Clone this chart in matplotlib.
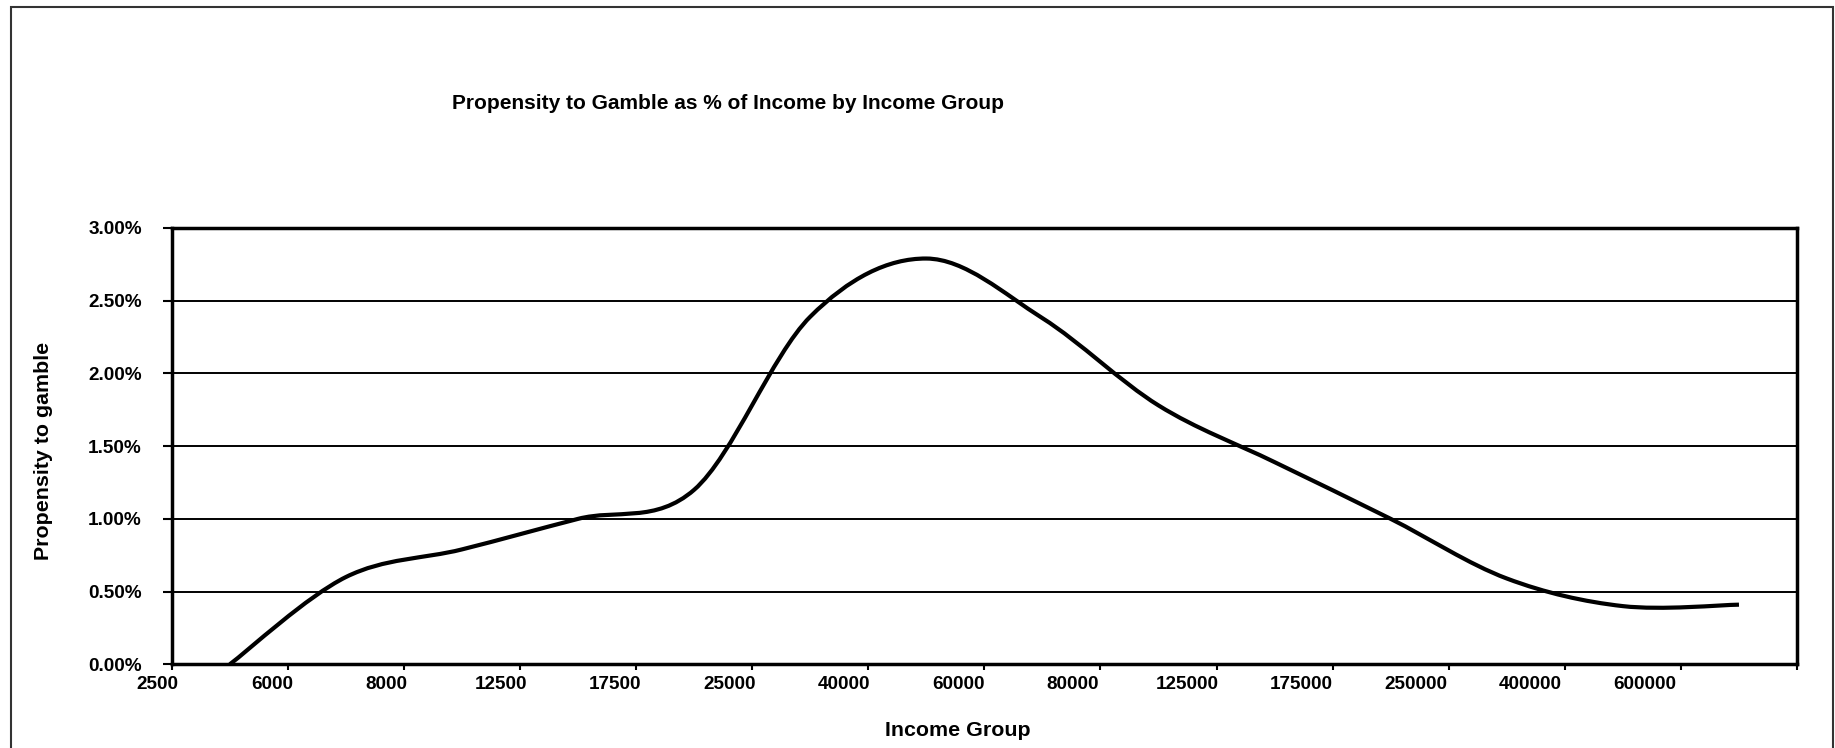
import matplotlib
matplotlib.use("Agg")
from matplotlib import pyplot as plt
from matplotlib.path import Path
from matplotlib.patches import PathPatch, Rectangle
from matplotlib.ticker import FuncFormatter
import matplotlib.transforms as mtransforms
import numpy as np

plt.rcParams['font.family'] = ['Liberation Sans', 'DejaVu Sans']
plt.rcParams['font.weight'] = 'bold'

income_groups = ["2500", "6000", "8000", "12500", "17500", "25000", "40000",
                 "60000", "80000", "125000", "175000", "250000", "400000", "600000"]
propensity = [0.00, 0.60, 0.79, 1.00, 1.20, 2.39, 2.79,
              2.38, 1.78, 1.39, 1.00, 0.59, 0.40, 0.41]  # percent of income

title = "Propensity to Gamble as % of Income by Income Group"
xlabel = "Income Group"
ylabel = "Propensity to gamble"

fig = plt.figure(figsize=(18.35, 7.48), dpi=100)
ax = fig.add_axes([0.0936, 0.1119, 0.9793 - 0.0936, 0.6952 - 0.1119])

# points sit in the middle of each category, like an excel line chart
n = len(propensity)
x = np.arange(n) + 0.5
y = np.array(propensity)

# excel style smoothed line: bezier segments with control points at 1/6 of neighbours
verts = [(x[0], y[0])]
codes = [Path.MOVETO]
for i in range(n - 1):
    p0 = np.array([x[max(i - 1, 0)], y[max(i - 1, 0)]])
    p1 = np.array([x[i], y[i]])
    p2 = np.array([x[i + 1], y[i + 1]])
    p3 = np.array([x[min(i + 2, n - 1)], y[min(i + 2, n - 1)]])
    c1 = p1 + (p2 - p0) / 6
    c2 = p2 - (p3 - p1) / 6
    verts += [tuple(c1), tuple(c2), tuple(p2)]
    codes += [Path.CURVE4] * 3
ax.add_patch(PathPatch(Path(verts, codes), facecolor="none", edgecolor="black",
                       lw=3.0, capstyle="butt", joinstyle="round", zorder=3))

ax.set_xlim(0, n)
ax.set_ylim(0, 3.0)
ax.set_yticks(np.arange(0, 3.01, 0.5))
ax.yaxis.set_major_formatter(FuncFormatter(lambda v, p: f"{v:.2f}%"))
ax.grid(axis="y", color="black", lw=1.4)
ax.set_axisbelow(True)

# tick marks on category boundaries, labels drawn a little left of each mark
ax.set_xticks(np.arange(n + 1))
ax.set_xticklabels([])
ax.tick_params(axis="x", direction="out", length=4.5, width=1.5)
ax.tick_params(axis="y", direction="out", length=6.5, width=1.5, pad=15, labelsize=13.7)
for lab in ax.get_yticklabels():
    lab.set_fontweight("bold")

label_off = mtransforms.ScaledTranslation(0, -0.20, fig.dpi_scale_trans)
for k, lab in enumerate(income_groups):
    ax.text(k * 0.985 - 0.12, 0, lab, transform=ax.get_xaxis_transform() + label_off,
            ha="center", va="center", fontsize=13.6, fontweight="bold", clip_on=False)

for s in ax.spines.values():
    s.set_linewidth(2.5)
    s.set_color("black")

fig.text(0.397, 0.861, title, ha="center", va="center", fontsize=15, fontweight="bold")
fig.text(0.5218, 0.023, xlabel, ha="center", va="center", fontsize=15.4, fontweight="bold")
fig.text(0.0235, 0.397, ylabel, ha="center", va="center", rotation=90,
         fontsize=15.4, fontweight="bold")

# outer chart border
fig.patches.append(Rectangle((11 / 1835, -0.05), (1833 - 11) / 1835, 1.05 - 7 / 748,
                             transform=fig.transFigure, fill=False,
                             edgecolor="#333333", lw=1.5))

fig.savefig("out.png", dpi=100)
